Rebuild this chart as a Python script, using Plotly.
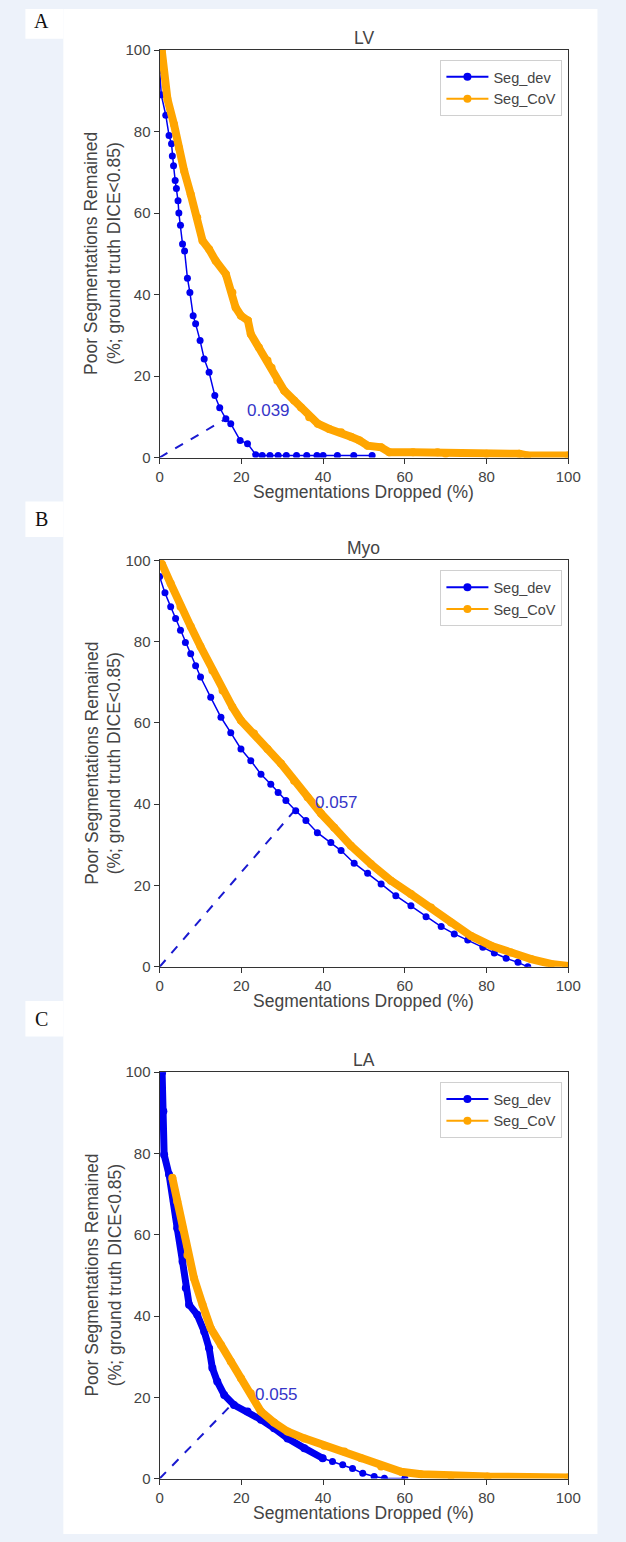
import plotly.graph_objects as go

# ---------------- data ----------------
panel_titles = ["LV", "Myo", "LA"]
panel_letters = ["A", "B", "C"]
series_names = ["Seg_dev", "Seg_CoV"]
x_ticks = [0, 20, 40, 60, 80, 100]
y_ticks = [0, 20, 40, 60, 80, 100]

# Panel A (LV)
lv_dev_x = [0, 0.4, 1.5, 2.3, 2.9, 3.1, 3.4, 3.8, 4.1, 4.5, 4.7, 5.1, 5.6, 6.1, 6.8, 7.4, 8.2, 8.8,
            9.9, 10.9, 12.1, 13.5, 14.7, 16.2, 17.4, 19.7, 21.5, 23.5, 25.1, 27, 29, 31, 33.5, 36,
            38.5, 40, 43.5, 47.5, 52]
lv_dev_y = [95, 89, 84, 79, 77, 74, 71.6, 68, 66, 63, 60, 57, 52.4, 50.7, 44, 40.5, 34.8, 32.8,
            28.7, 24.2, 20.9, 15.2, 12.2, 9.5, 8.3, 4.2, 3.4, 0.7, 0.5, 0.5, 0.5, 0.5, 0.5, 0.5,
            0.5, 0.5, 0.5, 0.5, 0.5]
lv_cov_x = [0.5, 1.9, 3.5, 4.7, 6.0, 7.6, 9.2, 10.5, 12.1, 13.7, 16.2, 17.8, 18.6, 19.9, 21.6, 22.3,
            24.3, 26.4, 27.4, 28.8, 30.5, 32.9, 34.6, 36.6, 38.7, 41.5, 44.4, 46.8, 48.9, 50.9,
            54.2, 56.2, 62, 68, 70, 80, 88, 90, 100]
lv_cov_y = [100, 88, 81.8, 76, 70.3, 64.6, 58.9, 53.2, 51.1, 48.3, 45, 40.5, 36.8, 34.8, 33.6, 30.3,
            27, 23.8, 22, 18.9, 16.4, 14, 12.3, 9.9, 8.3, 7, 6.2, 5.1, 4.2, 2.9,
            2.5, 1.3, 1.3, 1.3, 0.9, 0.9, 0.9, 0.5, 0.5]

# Panel B (Myo)
myo_dev_x = [0, 1.3, 2.7, 3.9, 5.1, 6.3, 7.6, 8.8, 10, 12.5, 15, 17.4, 19.9, 22.3, 24.8, 27.2, 29.0,
             30.9, 33.3, 35.8, 38.6, 41.9, 44.4, 47.6, 50.9, 54.2, 57.8, 61.5, 65.2, 68.9, 72.1,
             75.4, 79.1, 81.9, 84.8, 87.7, 90.1]
myo_dev_y = [96, 92, 88.6, 85.7, 82.8, 79.8, 77, 74.1, 71.3, 66.3, 61.4, 57.6, 53.6, 50.7, 47.4, 44.9,
             42.9, 40.9, 38.4, 36, 33, 30.6, 28.6, 25.5, 23, 20.4, 17.5, 15, 12.3, 9.9, 8.1,
             6.6, 4.8, 3.4, 2.1, 1.1, 0]
myo_cov_x = [0, 0.6, 2.7, 5.1, 7.6, 10, 12.9, 15.4, 17.8, 19.9, 23.1, 26.4, 29.7, 32.9, 36.2, 39.5,
             42.7, 46.8, 51.7, 56.6, 61.5, 66.4, 71.3, 76.2, 81.1, 86, 90.9, 95.8, 99.5, 100]
myo_cov_y = [100, 99, 94.3, 88.6, 83.7, 78.8, 72.9, 68, 63.9, 60.6, 57.4, 53.6, 50, 45.8, 41.7, 37.7,
             34.3, 29.8, 25.3, 21.2, 17.9, 14.6, 10.9, 7.6, 5.2, 3.5, 1.9, 0.7, 0.2, 0.2]

# Panel C (LA)
la_dev_x = [0.6, 0.9, 1.1, 2.3, 3.5, 4.3, 5.6, 6.4, 7.2, 9.2, 10.9, 12.1, 12.9, 14.1, 15.8, 18.2,
            21.5, 24.8, 28.0, 31.3, 35.4, 39.9, 42.3, 44.8, 47.2, 49.7, 52.5, 55.0, 60.0]
la_dev_y = [100, 90.4, 79.7, 74.8, 68.2, 61.6, 53.4, 46.9, 42.8, 40.3, 36.2, 32.1, 27.2, 23.9, 20.6,
            18.1, 16.5, 14.5, 12.4, 9.9, 7.5, 5.0, 4.2, 3.4, 2.5, 1.3, 0.5, 0.1, 0]
la_cov_x = [3.1, 4.3, 5.6, 6.8, 8.4, 10.5, 12.5, 15, 17.4, 19.9, 22.3, 24.8, 28, 31.3, 35.4, 40.3,
            45.2, 49.3, 54.2, 59.1, 64, 71.3, 80.3, 100]
la_cov_y = [74, 68.2, 61.6, 55, 49.3, 42.8, 37, 32.9, 28.8, 24.7, 21, 16.5, 13.8, 11.6, 9.9, 8.1,
            6.7, 5, 3, 1.7, 1.1, 0.7, 0.5, 0.3]

# threshold markers (dashed line end points) and their labels
thr_x = [16.2, 32.9, 17.4]
thr_y = [9.5, 38.3, 18.0]
thr_labels = ["0.039", "0.057", "0.055"]
thr_label_x = [26.6, 43.4, 28.7]
thr_label_y = [11.5, 40.5, 20.7]

# ---------------- styling ----------------
W, H = 626, 1542
BLUE = "#0000f0"
ORANGE = "#ffa500"
TXT = "#444444"
FONT = "Liberation Sans, Arial, sans-serif"
BG = "#edf2fa"

# pixel layout (page pixels)
plot_left_px, plot_right_px = 160, 580
plot_top_px = [41.5, 557.5, 1075]
plot_bot_px = [453.5, 968.5, 1486]
letter_px = [12, 516, 1021]
panel_left_px, panel_right_px = 61, 610


def fx(px):
    return px / W


def fy(px):
    return 1 - px / H


x_dom = [fx(plot_left_px), fx(plot_right_px)]
x_mid = (plot_left_px + plot_right_px) / 2

fig = go.Figure()

dev_data = [(lv_dev_x, lv_dev_y), (myo_dev_x, myo_dev_y), (la_dev_x, la_dev_y)]
cov_data = [(lv_cov_x, lv_cov_y), (myo_cov_x, myo_cov_y), (la_cov_x, la_cov_y)]

shapes = [
    dict(type="rect", xref="paper", yref="paper", x0=fx(panel_left_px), x1=fx(panel_right_px),
         y0=0, y1=1, fillcolor="white", line=dict(width=0), layer="below"),
]
annotations = []

for i in range(3):
    xa = "x" if i == 0 else f"x{i+1}"
    ya = "y" if i == 0 else f"y{i+1}"
    lg = "legend" if i == 0 else f"legend{i+1}"
    dx, dy = dev_data[i]
    cx, cy = cov_data[i]

    # dashed threshold line
    fig.add_trace(go.Scatter(x=[0, thr_x[i]], y=[0, thr_y[i]], mode="lines",
                             line=dict(color="#1a1ad0", width=2, dash="dash"),
                             xaxis=xa, yaxis=ya, showlegend=False, hoverinfo="skip"))
    # Seg_dev
    if i == 2:
        k = dx.index(39.9)
        fig.add_trace(go.Scatter(x=dx[:k + 1], y=dy[:k + 1], mode="lines+markers",
                                 line=dict(color=BLUE, width=7), marker=dict(size=8, color=BLUE),
                                 xaxis=xa, yaxis=ya, showlegend=False))
        fig.add_trace(go.Scatter(x=dx[k:], y=dy[k:], mode="lines+markers",
                                 line=dict(color=BLUE, width=1.5), marker=dict(size=7, color=BLUE),
                                 xaxis=xa, yaxis=ya, showlegend=False))
    else:
        fig.add_trace(go.Scatter(x=dx, y=dy, mode="lines+markers",
                                 line=dict(color=BLUE, width=1.5), marker=dict(size=7, color=BLUE),
                                 xaxis=xa, yaxis=ya, showlegend=False))
    # Seg_CoV
    fig.add_trace(go.Scatter(x=cx, y=cy, mode="lines+markers",
                             line=dict(color=ORANGE, width=8), marker=dict(size=8, color=ORANGE),
                             xaxis=xa, yaxis=ya, showlegend=False))
    # legend-only traces
    for name, col in zip(series_names, [BLUE, ORANGE]):
        fig.add_trace(go.Scatter(x=[None], y=[None], mode="lines+markers", name=name,
                                 line=dict(color=col, width=2), marker=dict(size=8, color=col),
                                 xaxis=xa, yaxis=ya, legend=lg, showlegend=True))

    ydom = [fy(plot_bot_px[i]), fy(plot_top_px[i])]
    axis_common = dict(range=[0, 100], showline=True, mirror=True, linecolor="#333333",
                       linewidth=1.3, ticks="outside", ticklen=5, tickwidth=1.2,
                       tickcolor="#333333", showgrid=False, zeroline=False,
                       tickfont=dict(family=FONT, size=15, color=TXT))
    fig.update_layout(**{
        ("xaxis" if i == 0 else f"xaxis{i+1}"): dict(axis_common, domain=x_dom, anchor=ya,
                                                      tickvals=x_ticks),
        ("yaxis" if i == 0 else f"yaxis{i+1}"): dict(axis_common, domain=ydom, anchor=xa,
                                                      tickvals=y_ticks),
        lg: dict(x=fx(plot_right_px - 6), xanchor="right", y=fy(plot_top_px[i] + 10),
                 yanchor="top", bgcolor="white", bordercolor="#d0d0d0", borderwidth=1,
                 font=dict(family=FONT, size=14.5, color=TXT), itemwidth=42,
                 tracegroupgap=0),
    })

    # title
    annotations.append(dict(text=panel_titles[i], xref="paper", yref="paper",
                            x=fx(x_mid), y=fy(plot_top_px[i] - 12), xanchor="center",
                            yanchor="middle", showarrow=False,
                            font=dict(family=FONT, size=17.5, color=TXT)))
    # x-axis title
    annotations.append(dict(text="Segmentations Dropped (%)", xref="paper", yref="paper",
                            x=fx(x_mid), y=fy(plot_bot_px[i] + 35), xanchor="center",
                            yanchor="middle", showarrow=False,
                            font=dict(family=FONT, size=17.5, color=TXT)))
    # y-axis title
    annotations.append(dict(text="Poor Segmentations Remained<br>(%; ground truth DICE<0.85)",
                            xref="paper", yref="paper", x=fx(102),
                            y=fy((plot_top_px[i] + plot_bot_px[i]) / 2), xanchor="center",
                            yanchor="middle", textangle=-90, showarrow=False,
                            font=dict(family=FONT, size=17.5, color=TXT)))
    # threshold label
    annotations.append(dict(text=thr_labels[i], xref=xa, yref=ya, x=thr_label_x[i],
                            y=thr_label_y[i], xanchor="center", yanchor="middle",
                            showarrow=False, font=dict(family=FONT, size=17, color="#3535c8")))
    # panel letter box + letter
    shapes.append(dict(type="rect", xref="paper", yref="paper", x0=fx(22),
                       x1=fx(panel_left_px), y0=fy(letter_px[i] + 18),
                       y1=min(1, fy(letter_px[i] - 18)),
                       fillcolor="white", line=dict(width=0), layer="below"))
    annotations.append(dict(text=panel_letters[i], xref="paper", yref="paper", x=fx(39),
                            y=fy(letter_px[i]), xanchor="center", yanchor="middle",
                            showarrow=False,
                            font=dict(family="Liberation Serif, Times New Roman, serif",
                                      size=20, color="#111111")))

fig.update_layout(width=W, height=H, autosize=False, margin=dict(l=0, r=0, t=0, b=0),
                  paper_bgcolor=BG, plot_bgcolor="white", shapes=shapes,
                  annotations=annotations, hovermode=False)

fig.write_html("out.html")
